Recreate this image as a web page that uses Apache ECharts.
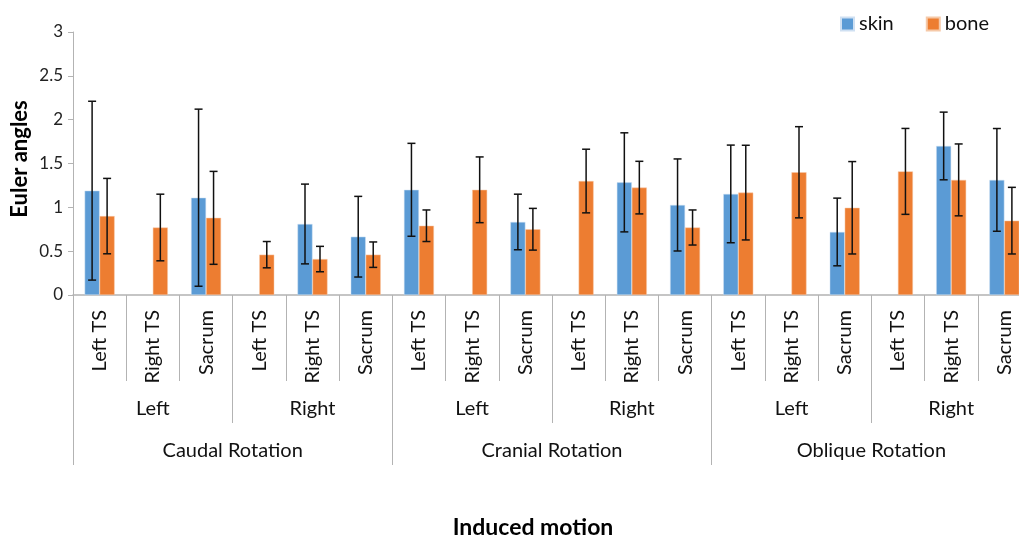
<!DOCTYPE html>
<html>
<head>
<meta charset="utf-8">
<script src="https://cdn.jsdelivr.net/npm/echarts@6/dist/echarts.min.js"></script>
<style>html,body{margin:0;padding:0;background:#fff}#c{width:1019px;height:543px}</style>
</head>
<body>
<div id="c"></div>
<script>
// ---- data ----
const sites = ['Left TS', 'Right TS', 'Sacrum'];
const sides = ['Left', 'Right'];
const motions = ['Caudal Rotation', 'Cranial Rotation', 'Oblique Rotation'];
const yTicks = [0, 0.5, 1, 1.5, 2, 2.5, 3];

const skinMean = [1.19, null, 1.11, null, 0.81, 0.665, 1.20, null, 0.833, null, 1.285, 1.027, 1.153, null, 0.719, null, 1.70, 1.313];
const skinSD   = [1.02, null, 1.01, null, 0.455, 0.46, 0.53, null, 0.317, null, 0.565, 0.525, 0.557, null, 0.386, null, 0.386, 0.586];
const boneMean = [0.90, 0.77, 0.88, 0.46, 0.41, 0.46, 0.79, 1.20, 0.75, 1.30, 1.225, 0.77, 1.168, 1.40, 0.995, 1.41, 1.313, 0.848];
const boneSD   = [0.43, 0.38, 0.53, 0.15, 0.145, 0.145, 0.18, 0.375, 0.238, 0.363, 0.30, 0.20, 0.54, 0.52, 0.527, 0.49, 0.41, 0.38];

// ---- derived category lists ----
const level1 = [], level2 = [], level3 = motions.slice();
motions.forEach(() => sides.forEach(s => { level2.push(s); sites.forEach(t => level1.push(t)); }));

const FONT = 'Lato, "Open Sans", sans-serif';
const BAR_W = 15;
const SKIN = '#5B9BD5', BONE = '#ED7D31';
const SEP = '#b3b3b3';

function errData(mean, sd) {
  const out = [];
  mean.forEach((m, i) => { if (m != null && sd[i] != null) out.push([i, m - sd[i], m + sd[i]]); });
  return out;
}
function errRender(offsetSign) {
  return function (params, api) {
    const i = api.value(0);
    const lo = api.coord([i, api.value(1)]);
    const hi = api.coord([i, api.value(2)]);
    const x = lo[0] + offsetSign * BAR_W / 2;
    const cap = 4;
    const st = { stroke: '#111', lineWidth: 1.5 };
    return {
      type: 'group',
      children: [
        { type: 'line', shape: { x1: x, y1: hi[1], x2: x, y2: lo[1] }, style: st },
        { type: 'line', shape: { x1: x - cap, y1: hi[1], x2: x + cap, y2: hi[1] }, style: st },
        { type: 'line', shape: { x1: x - cap, y1: lo[1], x2: x + cap, y2: lo[1] }, style: st }
      ]
    };
  };
}

const chart = echarts.init(document.getElementById('c'), null, { renderer: 'canvas' });
chart.setOption({
  animation: false,
  textStyle: { fontFamily: FONT },
  grid: { left: 73, top: 32, width: 958, height: 263, outerBoundsMode: 'none', containLabel: false },
  legend: {
    left: 835, top: 9, itemWidth: 13, itemHeight: 13, itemGap: 32,
    icon: 'rect',
    textStyle: { fontSize: 20, color: '#111', fontFamily: FONT },
    data: ['skin', 'bone']
  },
  xAxis: [
    {
      type: 'category', data: level1, position: 'bottom',
      axisLine: { show: true, lineStyle: { color: SEP, width: 1.5 } },
      axisTick: { show: true, length: 86, lineStyle: { color: SEP } },
      axisLabel: { rotate: 90, margin: 15, fontSize: 20, color: '#111', interval: 0, fontFamily: FONT }
    },
    {
      type: 'category', data: level2, position: 'bottom',
      axisLine: { show: false },
      axisTick: { show: true, length: 128, lineStyle: { color: SEP } },
      axisLabel: { margin: 104, fontSize: 20, color: '#111', interval: 0, fontFamily: FONT }
    },
    {
      type: 'category', data: level3, position: 'bottom',
      axisLine: { show: false },
      axisTick: { show: true, length: 170, lineStyle: { color: SEP } },
      axisLabel: { margin: 146, fontSize: 20, color: '#111', interval: 0, fontFamily: FONT }
    }
  ],
  yAxis: {
    type: 'value', min: yTicks[0], max: yTicks[yTicks.length - 1], interval: yTicks[1] - yTicks[0],
    axisLine: { show: true, lineStyle: { color: SEP } },
    axisTick: { show: true, length: 5, lineStyle: { color: SEP } },
    axisLabel: { margin: 10, fontSize: 17, color: '#222', fontFamily: FONT },
    splitLine: { show: false }
  },
  graphic: [
    { type: 'text', x: 20, y: 159, rotation: Math.PI / 2,
      style: { text: 'Euler angles', font: 'bold 22px ' + FONT, fill: '#000', align: 'center', verticalAlign: 'middle' } },
    { type: 'text', x: 533, y: 528,
      style: { text: 'Induced motion', font: 'bold 23px ' + FONT, fill: '#000', align: 'center', verticalAlign: 'middle' } }
  ],
  series: [
    { name: 'skin', type: 'bar', xAxisIndex: 0, data: skinMean, barWidth: BAR_W, barGap: '0%',
      itemStyle: { color: SKIN, borderColor: '#cfe0f2', borderWidth: 0.5 } },
    { name: 'bone', type: 'bar', xAxisIndex: 0, data: boneMean, barWidth: BAR_W, barGap: '0%',
      itemStyle: { color: BONE, borderColor: '#f6c9a8', borderWidth: 0.5 } },
    { name: 'skinErr', type: 'custom', xAxisIndex: 0, data: errData(skinMean, skinSD), renderItem: errRender(-1), z: 5 },
    { name: 'boneErr', type: 'custom', xAxisIndex: 0, data: errData(boneMean, boneSD), renderItem: errRender(1), z: 5 }
  ]
});
</script>
</body>
</html>
